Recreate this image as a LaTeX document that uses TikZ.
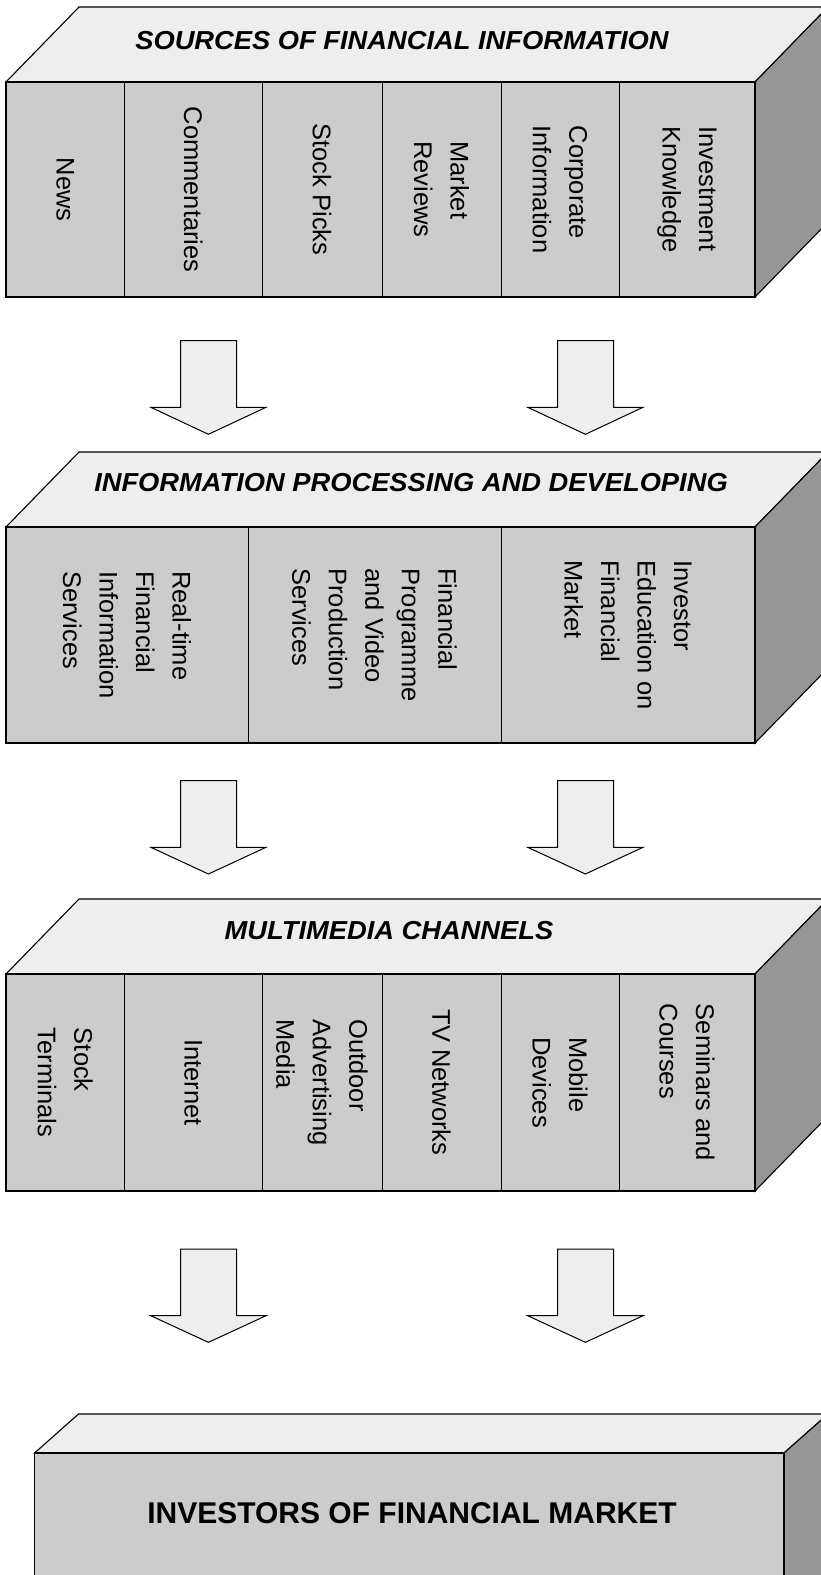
\documentclass[tikz,border=0pt]{standalone}
\usepackage{fontspec}
\setmainfont{Liberation Sans}
\definecolor{topc}{HTML}{EEEEEE}
\definecolor{frontc}{HTML}{CCCCCC}
\definecolor{sidec}{HTML}{969696}
\begin{document}
\begin{tikzpicture}[x=1pt,y=-1pt, line join=miter,
  face/.style={draw=black, line width=1.1pt},
  divider/.style={draw=black, line width=0.9pt},
  col/.style={rotate=-90, align=left, font=\fontsize{25.5}{36.5}\selectfont, inner sep=0pt},
  ttl/.style={font=\fontsize{26}{30}\selectfont\bfseries\itshape, xscale=1.05, inner sep=0pt},
  big/.style={font=\fontsize{30}{34}\selectfont\bfseries, inner sep=0pt},
  arr/.style={draw=black, fill=topc, line width=1pt}]
\useasboundingbox (0,0) rectangle (821,1575);
\clip (0,0) rectangle (821,1575);

% ---------- Block 1 ----------
\fill[topc, face] (6,82) -- (79,7) -- (828,7) -- (755,82) -- cycle;
\fill[sidec, face] (755,82) -- (828,7) -- (828,222) -- (755,297) -- cycle;
\fill[frontc, face] (6,82) rectangle (755,297);
\foreach \x in {124.6,262,382,501,619} \draw[divider] (\x,82) -- (\x,297);
\node[ttl] (t1) at (402,41) {SOURCES OF FINANCIAL INFORMATION};
\node[col] (a1) at (65.3,189.5) {News};
\node[col] (a2) at (193.3,189.5) {Commentaries};
\node[col] (a3) at (322,189.5) {Stock Picks};
\node[col] (a4) at (441.5,189.5) {Market\\Reviews};
\node[col] (a5) at (560,189.5) {Corporate\\Information};
\node[col] (a6) at (687,189.5) {Investment\\Knowledge};

% ---------- Arrows 1 ----------
\draw[arr] (180.6,340.7) -- (236.6,340.7) -- (236.6,407.3) -- (266,407.3) -- (208.4,434.3) -- (150.8,407.3) -- (180.6,407.3) -- cycle;
\draw[arr] (557.6,340.7) -- (613.6,340.7) -- (613.6,407.3) -- (643,407.3) -- (585.4,434.3) -- (527.7,407.3) -- (557.6,407.3) -- cycle;

% ---------- Block 2 ----------
\fill[topc, face] (6,527) -- (79,452) -- (828,452) -- (755,527) -- cycle;
\fill[sidec, face] (755,527) -- (828,452) -- (828,668) -- (755,743) -- cycle;
\fill[frontc, face] (6,527) rectangle (755,743);
\foreach \x in {248,501} \draw[divider] (\x,527) -- (\x,743);
\node[ttl] (t2) at (411,482.5) {INFORMATION PROCESSING AND DEVELOPING};
\node[col] (b1) at (127,635) {Real-time\\Financial\\Information\\Services};
\node[col] (b2) at (374.5,635) {Financial\\Programme\\and Video\\Production\\Services};
\node[col] (b3) at (628,635) {Investor\\Education on\\Financial\\Market};

% ---------- Arrows 2 ----------
\draw[arr] (180.6,780.7) -- (236.6,780.7) -- (236.6,847.3) -- (266,847.3) -- (208.4,874) -- (150.8,847.3) -- (180.6,847.3) -- cycle;
\draw[arr] (557.6,780.7) -- (613.6,780.7) -- (613.6,847.3) -- (643,847.3) -- (585.4,874) -- (527.7,847.3) -- (557.6,847.3) -- cycle;

% ---------- Block 3 ----------
\fill[topc, face] (6,974) -- (79,899) -- (828,899) -- (755,974) -- cycle;
\fill[sidec, face] (755,974) -- (828,899) -- (828,1116) -- (755,1191) -- cycle;
\fill[frontc, face] (6,974) rectangle (755,1191);
\foreach \x in {124.6,262,382,501,619} \draw[divider] (\x,974) -- (\x,1191);
\node[ttl] (t3) at (389,931) {MULTIMEDIA CHANNELS};
\node[col] (c1) at (65.3,1082.5) {Stock\\Terminals};
\node[col] (c2) at (193.3,1082.5) {Internet};
\node[col] (c3) at (322,1082.5) {Outdoor\\Advertising\\Media};
\node[col] (c4) at (441.5,1082.5) {TV Networks};
\node[col] (c5) at (560,1082.5) {Mobile\\Devices};
\node[col] (c6) at (687,1082.5) {Seminars and\\Courses};

% ---------- Arrows 3 ----------
\draw[arr] (180.6,1249) -- (236.6,1249) -- (236.6,1315.7) -- (266,1315.7) -- (208.4,1342.3) -- (150.8,1315.7) -- (180.6,1315.7) -- cycle;
\draw[arr] (557.6,1249) -- (613.6,1249) -- (613.6,1315.7) -- (643,1315.7) -- (585.4,1342.3) -- (527.7,1315.7) -- (557.6,1315.7) -- cycle;

% ---------- Block 4 ----------
\fill[topc, face] (34.6,1453) -- (78.5,1414) -- (828,1414) -- (784,1453) -- cycle;
\fill[sidec, face] (784,1453) -- (828,1414) -- (828,1600) -- (784,1640) -- cycle;
\fill[frontc, face] (34.6,1453) rectangle (784,1640);
\node[big] (d1) at (412,1513) {INVESTORS OF FINANCIAL MARKET};
\end{tikzpicture}
\end{document}
